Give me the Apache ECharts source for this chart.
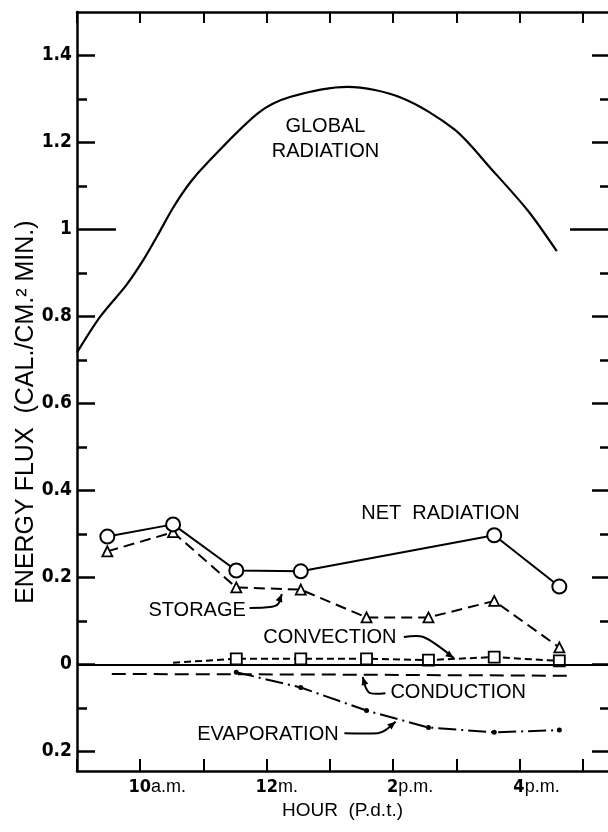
<!DOCTYPE html>
<html>
<head>
<meta charset="utf-8">
<script src="https://cdn.jsdelivr.net/npm/echarts@6/dist/echarts.min.js"></script>
<style>
html, body { margin: 0; padding: 0; background: #fff; }
#chart { width: 608px; height: 832px; }
</style>
</head>
<body>
<div id="chart"></div>
<script>
// ---- data: [hour (P.d.t.), cal/cm2 min] ----
var globalRadiation = [
    [9.0, 0.717], [9.37, 0.80], [9.78, 0.872], [10.05, 0.93], [10.27, 0.985],
    [10.52, 1.05], [10.79, 1.108], [11.06, 1.153], [11.87, 1.268], [12.38, 1.305],
    [13.28, 1.328], [14.13, 1.303], [14.97, 1.23], [15.56, 1.138], [16.14, 1.042],
    [16.59, 0.95]
];
var netRadiation = [[9.48, 0.294], [10.52, 0.322], [11.52, 0.216], [12.54, 0.214], [15.6, 0.297], [16.63, 0.179]];
var storage = [[9.48, 0.26], [10.52, 0.304], [11.52, 0.177], [12.54, 0.172], [13.58, 0.108], [14.56, 0.108], [15.6, 0.146], [16.63, 0.039]];
var convectionStart = [10.52, 0.004];
var convection = [[11.52, 0.013], [12.54, 0.013], [13.58, 0.013], [14.56, 0.01], [15.6, 0.017], [16.63, 0.008]];
var conduction = [[9.55, -0.022], [12.5, -0.023], [16.75, -0.026]];
var evaporation = [[11.52, -0.018], [12.54, -0.053], [13.58, -0.106], [14.56, -0.145], [15.6, -0.156], [16.63, -0.151]];

// axis ticks / labels
var hourTicks = [9, 10, 11, 12, 13, 14, 15, 16, 17];
var hourLabels = [10, 12, 14, 16];
var hourSuffix = { 10: 'a.m.', 12: 'm.', 14: 'p.m.', 16: 'p.m.' };
var hourText = { 10: '10', 12: '12', 14: '2', 16: '4' };
var yLabels = [-0.2, 0, 0.2, 0.4, 0.6, 0.8, 1, 1.2, 1.4];
var yMajorTicks = [-0.2, 0, 0.2, 0.4, 0.6, 0.8, 1.2, 1.4];
var yMinorTicks = [-0.1, 0.1, 0.3, 0.5, 0.7, 0.9, 1.1, 1.3];
var yLongTick = [1];

var X_MIN = 9, X_MAX = 17.4, Y_MIN = -0.245, Y_MAX = 1.5;
var NUM_FONT = '"DejaVu Sans Condensed", "DejaVu Sans", sans-serif';
var TXT_FONT = '"Liberation Sans", Arial, sans-serif';

// annotations, placed in data space
var textNotes = [
    { text: 'GLOBAL', at: [12.93, 1.237] },
    { text: 'RADIATION', at: [12.93, 1.180] },
    { text: 'NET  RADIATION', at: [14.75, 0.348] },
    { text: 'STORAGE', at: [10.90, 0.124] },
    { text: 'CONVECTION', at: [13.0, 0.062] },
    { text: 'CONDUCTION', at: [15.03, -0.065] },
    { text: 'EVAPORATION', at: [12.02, -0.161] }
];
var leaders = [
    [[11.73, 0.130], [12.06, 0.132], [12.18, 0.139], [12.24, 0.162]],
    [[14.17, 0.063], [14.48, 0.063], [14.96, 0.015]],
    [[13.88, -0.066], [13.64, -0.066], [13.57, -0.054], [13.52, -0.029]],
    [[13.23, -0.158], [13.76, -0.158], [13.88, -0.151], [14.04, -0.132]]
];

function yLayer(pos, ticks, len, withLine, withLabels) {
    return {
        type: 'value', position: pos, min: Y_MIN, max: Y_MAX,
        axisLine: { show: withLine, onZero: false, lineStyle: { color: '#000', width: 2.5 } },
        axisTick: { show: true, inside: true, length: len, customValues: ticks,
            lineStyle: { color: '#000', width: 2.5 } },
        axisLabel: withLabels ? {
            show: true, customValues: yLabels, margin: 5, color: '#000',
            fontFamily: NUM_FONT, fontWeight: 'bold', fontSize: 19,
            formatter: function (v) {
                if (Math.abs(v) < 1e-9) return '0';
                if (Math.abs(Math.abs(v) - 1) < 1e-9) return '1';
                return Math.abs(v).toFixed(1);
            }
        } : { show: false },
        splitLine: { show: false }
    };
}

var yAxes = [
    yLayer('left', yMajorTicks, 18, true, true),
    yLayer('left', yMinorTicks, 10, false, false),
    yLayer('left', yLongTick, 39, false, false),
    yLayer('right', yMajorTicks, 16, false, false),
    yLayer('right', yMinorTicks, 8, false, false),
    yLayer('right', yLongTick, 38, false, false)
];

var chart = echarts.init(document.getElementById('chart'), null, { renderer: 'canvas' });

var option = {
    animation: false,
    backgroundColor: '#fff',
    grid: { left: 77, right: 0, top: 12, bottom: 61, containLabel: false },
    xAxis: [{
        type: 'value', position: 'bottom', min: X_MIN, max: X_MAX, interval: 1,
        axisLine: { onZero: false, lineStyle: { color: '#000', width: 2.5 } },
        axisTick: { inside: true, length: 12, customValues: hourTicks, lineStyle: { color: '#000', width: 2 } },
        axisLabel: {
            customValues: hourLabels, margin: 7, color: '#000',
            formatter: function (v) {
                var suf = hourSuffix[v];
                var sp = suf.length > 2 ? 'sp1' : 'sp2';
                return '{' + sp + '|}{n|' + hourText[v] + '}{s|' + suf + '}';
            },
            rich: {
                n: { fontFamily: NUM_FONT, fontWeight: 'bold', fontSize: 18, color: '#000' },
                s: { fontFamily: TXT_FONT, fontSize: 18, color: '#000' },
                sp1: { width: 34 },
                sp2: { width: 20 }
            }
        },
        splitLine: { show: false },
        name: 'HOUR  (P.d.t.)', nameLocation: 'middle', nameGap: 28,
        nameTextStyle: { fontFamily: TXT_FONT, fontSize: 19, color: '#000' }
    }, {
        type: 'value', position: 'top', min: X_MIN, max: X_MAX, interval: 1,
        axisLine: { onZero: false, lineStyle: { color: '#000', width: 2.5 } },
        axisTick: { inside: true, length: 11, customValues: hourTicks, lineStyle: { color: '#000', width: 2 } },
        axisLabel: { show: false },
        splitLine: { show: false }
    }],
    yAxis: yAxes,
    series: [{
        name: 'Global radiation', type: 'line', data: globalRadiation,
        smooth: 0.3,
        showSymbol: false, symbol: 'none',
        lineStyle: { color: '#000', width: 2.2 },
        markLine: {
            silent: true, symbol: 'none', label: { show: false },
            lineStyle: { color: '#000', width: 2, type: 'solid' },
            data: [{ yAxis: 0 }]
        }
    }, {
        name: 'Storage', type: 'line', data: storage, z: 3,
        symbol: 'triangle', symbolSize: 10,
        lineStyle: { color: '#000', width: 2, type: [11, 6] },
        itemStyle: { color: '#fff', borderColor: '#000', borderWidth: 1.8 }
    }, {
        name: 'Net radiation', type: 'line', data: netRadiation, z: 4,
        symbol: 'circle', symbolSize: 14,
        lineStyle: { color: '#000', width: 2 },
        itemStyle: { color: '#fff', borderColor: '#000', borderWidth: 2 }
    }, {
        name: 'Convection', type: 'line', z: 3,
        data: [{ value: convectionStart, symbol: 'none' }].concat(convection),
        symbol: 'rect', symbolSize: 11,
        lineStyle: { color: '#000', width: 2, type: [7, 4] },
        itemStyle: { color: '#fff', borderColor: '#000', borderWidth: 1.8 }
    }, {
        name: 'Conduction', type: 'line', data: conduction, symbol: 'none',
        lineStyle: { color: '#000', width: 2, type: [14, 7] }
    }, {
        name: 'Evaporation', type: 'line', data: evaporation,
        symbol: 'circle', symbolSize: 5,
        lineStyle: { color: '#000', width: 2, type: [18, 5, 2, 5] },
        itemStyle: { color: '#000' }
    }]
};
chart.setOption(option);

// annotation text + leader arrows, converted from data space
function px(p) { return chart.convertToPixel({ gridIndex: 0 }, p); }
var g = [];
textNotes.forEach(function (n) {
    var p = px(n.at);
    g.push({
        type: 'text', x: p[0], y: p[1], z: 10,
        style: { text: n.text, font: '20px ' + TXT_FONT, fill: '#000', align: 'center', verticalAlign: 'middle' }
    });
});
leaders.forEach(function (pts) {
    var pp = pts.map(px);
    g.push({
        type: 'polyline', z: 10, shape: { points: pp, smooth: 0.3 },
        style: { stroke: '#000', lineWidth: 2, fill: null }
    });
    var a = pp[pp.length - 2], b = pp[pp.length - 1];
    var ang = Math.atan2(b[1] - a[1], b[0] - a[0]);
    var L = 8, W = 3.5;
    var bx = b[0] - L * Math.cos(ang), by = b[1] - L * Math.sin(ang);
    g.push({
        type: 'polygon', z: 10,
        shape: { points: [b, [bx - W * Math.sin(ang), by + W * Math.cos(ang)], [bx + W * Math.sin(ang), by - W * Math.cos(ang)]] },
        style: { fill: '#000' }
    });
});
// vertical axis title
g.push({
    type: 'text', x: 26, y: px([X_MIN, 0.58])[1], rotation: Math.PI / 2, z: 10,
    style: { text: 'ENERGY FLUX  (CAL./CM.\u00b2 MIN.)', font: '25px ' + TXT_FONT, fill: '#000', align: 'center', verticalAlign: 'middle' }
});
chart.setOption({ graphic: g });
window.addEventListener('resize', function () { chart.resize(); });
</script>
</body>
</html>
